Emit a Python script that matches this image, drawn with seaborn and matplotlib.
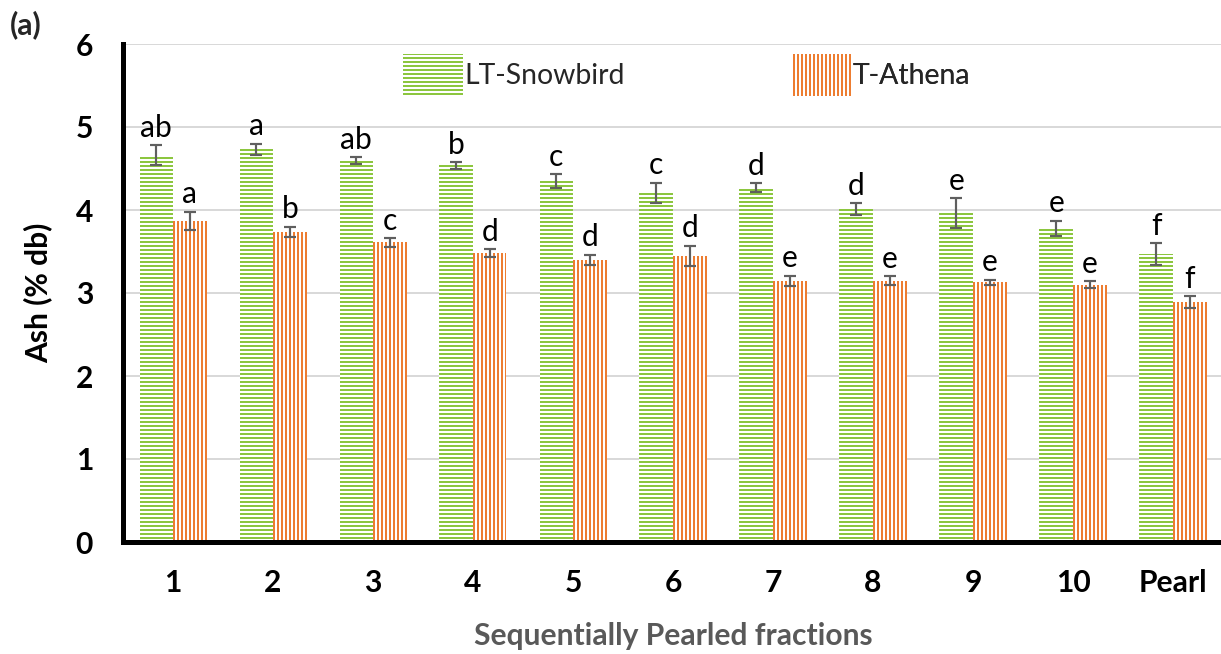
import matplotlib
matplotlib.use("Agg")
import matplotlib.pyplot as plt
import matplotlib.patches as mpatches
import pandas as pd
import seaborn as sns

# Ash content per sequentially pearled fraction, two barley varieties
fractions = ["1", "2", "3", "4", "5", "6", "7", "8", "9", "10", "Pearl"]
varieties = ["LT-Snowbird", "T-Athena"]
snowbird_ash = [4.66, 4.73, 4.60, 4.54, 4.35, 4.21, 4.27, 4.01, 3.96, 3.78, 3.47]
snowbird_err = [0.12, 0.07, 0.04, 0.04, 0.08, 0.12, 0.05, 0.07, 0.18, 0.09, 0.13]
athena_ash = [3.87, 3.74, 3.61, 3.48, 3.40, 3.45, 3.15, 3.15, 3.13, 3.10, 2.89]
athena_err = [0.11, 0.06, 0.05, 0.05, 0.06, 0.12, 0.06, 0.05, 0.03, 0.04, 0.07]
snowbird_letters = ["ab", "a", "ab", "b", "c", "c", "d", "d", "e", "e", "f"]
athena_letters = ["a", "b", "c", "d", "d", "d", "e", "e", "e", "e", "f"]
y_ticks = [0, 1, 2, 3, 4, 5, 6]

GREEN = "#8CC63F"
ORANGE = "#ED7D31"
DPI = 120

sns.set_theme(style="white")
plt.rcParams["font.family"] = ["Lato", "DejaVu Sans"]
plt.rcParams["hatch.linewidth"] = 1.2

df = pd.DataFrame({
    "fraction": fractions * 2,
    "ash": snowbird_ash + athena_ash,
    "variety": [varieties[0]] * len(fractions) + [varieties[1]] * len(fractions),
})

fig = plt.figure(figsize=(1221 / DPI, 654 / DPI), dpi=DPI)
ax = fig.add_axes([123 / 1221, 112 / 654, 1100 / 1221, 498 / 654])

sns.barplot(data=df, x="fraction", y="ash", hue="variety", order=fractions,
            hue_order=varieties, palette=[GREEN, ORANGE], width=0.67,
            saturation=1, errorbar=None, legend=False, ax=ax)

hatches = ["-----", "|||||"]
colors = [GREEN, ORANGE]
series = [(snowbird_ash, snowbird_err, snowbird_letters),
          (athena_ash, athena_err, athena_letters)]

for container, color, hatch, (vals, errs, letters) in zip(ax.containers, colors, hatches, series):
    xs = []
    for bar in container:
        bar.set_facecolor("white")
        bar.set_edgecolor(color)
        bar.set_hatch(hatch)
        bar.set_linewidth(0)
        xs.append(bar.get_x() + bar.get_width() / 2)
    ax.errorbar(xs, vals, yerr=errs, fmt="none", ecolor="#5f5f5f",
                elinewidth=1.3, capsize=3.6, capthick=1.3, zorder=4)
    for x, v, e, t in zip(xs, vals, errs, letters):
        ax.annotate(t, (x, v + e), xytext=(0, 5), textcoords="offset points",
                    ha="center", va="baseline", fontsize=18, color="black")

ax.set_xlim(-0.5, 10.5)
ax.set_ylim(0, 6)
ax.set_yticks(y_ticks)
ax.yaxis.grid(True, color="#d9d9d9", linewidth=1.2)
ax.xaxis.grid(False)
ax.set_axisbelow(True)

for side in ["top", "right"]:
    ax.spines[side].set_visible(False)
for side in ["left", "bottom"]:
    ax.spines[side].set_visible(True)
    ax.spines[side].set_color("black")
    ax.spines[side].set_linewidth(3.0)

ax.tick_params(axis="both", length=0, labelsize=18, colors="black")
ax.tick_params(axis="y", pad=18)
ax.tick_params(axis="x", pad=16)
for lbl in ax.get_xticklabels() + ax.get_yticklabels():
    lbl.set_fontweight("bold")

ax.set_xlabel("Sequentially Pearled fractions", fontsize=18, fontweight="bold",
              color="#595959", labelpad=15)
ax.set_ylabel("Ash (% db)", fontsize=18, fontweight="bold", color="black",
              labelpad=14)

# legend entries placed as two separate single-item legends
for name, color, hatch, xpos in zip(varieties, colors, hatches, [403, 791]):
    handle = mpatches.Patch(facecolor="white", edgecolor=color, hatch=hatch, linewidth=0)
    leg = ax.legend([handle], [name], loc="center left",
                    bbox_to_anchor=(xpos / 1221, 1 - 75 / 654),
                    bbox_transform=fig.transFigure, frameon=False,
                    fontsize=17, handlelength=2.1, handleheight=1.9,
                    handletextpad=0.08, borderpad=0, borderaxespad=0)
    ax.add_artist(leg)

fig.text(10 / 1221, 1 - 25 / 654, "(a)", fontsize=18, fontweight="bold",
         va="center", ha="left")

fig.savefig("out.png", dpi=DPI)
